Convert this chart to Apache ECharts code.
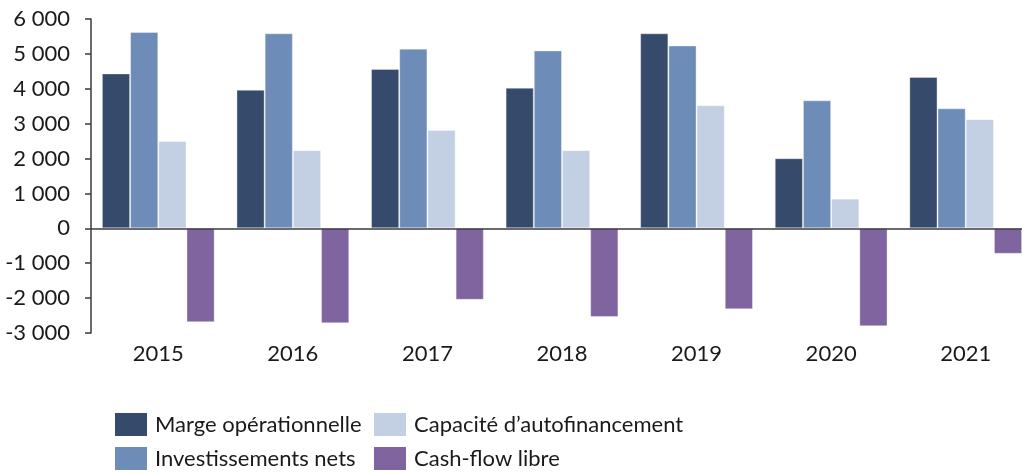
<!DOCTYPE html>
<html>
<head>
<meta charset="utf-8">
<script src="https://cdn.jsdelivr.net/npm/echarts@6/dist/echarts.min.js"></script>
<style>
html,body{margin:0;padding:0;background:#fff;overflow:hidden;}
#chart{width:1022px;height:473px;}
</style>
</head>
<body>
<div id="chart"></div>
<script>
const categories = ['2015', '2016', '2017', '2018', '2019', '2020', '2021'];
const seriesNames = ['Marge opérationnelle', 'Investissements nets', "Capacité d’autofinancement", 'Cash-flow libre'];
const margeOperationnelle = [4440, 3970, 4570, 4030, 5590, 2010, 4340];
const investissementsNets = [5630, 5590, 5150, 5100, 5240, 3670, 3440];
const capaciteAutofinancement = [2500, 2240, 2820, 2240, 3530, 850, 3130];
const cashFlowLibre = [-2690, -2720, -2050, -2540, -2320, -2810, -730];
const yTicks = { min: -3000, max: 6000, interval: 1000 };

const colors = ['#364B6C', '#6D8DB8', '#C3CFE2', '#8064A0'];
const FONT = 'Lato';

function fmt(v) {
  const s = Math.abs(v).toString().replace(/\B(?=(\d{3})+(?!\d))/g, ' ');
  return (v < 0 ? '-' : '') + s;
}

const values = [margeOperationnelle, investissementsNets, capaciteAutofinancement, cashFlowLibre];

const series = values.map((d, i) => {
  const s = {
    name: seriesNames[i],
    type: 'bar',
    data: d,
    barWidth: 28.2,
    barGap: '0%',
    itemStyle: { color: colors[i], borderColor: 'rgba(255,255,255,0.35)', borderWidth: 1 },
    emphasis: { disabled: true }
  };
  if (i === 3) {
    s.markLine = {
      silent: true,
      symbol: 'none',
      label: { show: false },
      lineStyle: { color: '#3a3a3a', width: 1.5, type: 'solid' },
      data: [{ yAxis: 0 }],
      z: 10
    };
  }
  return s;
});

const chart = echarts.init(document.getElementById('chart'));
chart.setOption({
  animation: false,
  backgroundColor: '#fff',
  grid: { left: 91, top: 19, width: 942, height: 314, containLabel: false, outerBoundsMode: 'none' },
  xAxis: {
    type: 'category',
    data: categories,
    axisLine: { show: false, onZero: false },
    axisTick: { show: false },
    axisLabel: { margin: 10, color: '#1a1a1a', fontFamily: FONT, fontSize: 22 }
  },
  yAxis: {
    type: 'value',
    min: yTicks.min,
    max: yTicks.max,
    interval: yTicks.interval,
    splitLine: { show: false },
    axisLine: { show: true, lineStyle: { color: '#3a3a3a', width: 1.5 } },
    axisTick: { show: true, length: 6, inside: false, lineStyle: { color: '#3a3a3a', width: 1.5 } },
    axisLabel: { margin: 21, color: '#1a1a1a', fontFamily: FONT, fontSize: 22, formatter: fmt }
  },
  legend: [
    {
      orient: 'vertical', left: 115, top: 413, padding: 0,
      itemWidth: 32, itemHeight: 23, itemGap: 11, icon: 'rect',
      itemStyle: { borderWidth: 0 },
      textStyle: { color: '#1a1a1a', fontFamily: FONT, fontSize: 22, padding: [0, 0, 0, 3] },
      data: [seriesNames[0], seriesNames[1]],
      selectedMode: false
    },
    {
      orient: 'vertical', left: 374, top: 413, padding: 0,
      itemWidth: 32, itemHeight: 23, itemGap: 11, icon: 'rect',
      itemStyle: { borderWidth: 0 },
      textStyle: { color: '#1a1a1a', fontFamily: FONT, fontSize: 22, padding: [0, 0, 0, 3] },
      data: [seriesNames[2], seriesNames[3]],
      selectedMode: false
    }
  ],
  series: series
});
</script>
</body>
</html>
